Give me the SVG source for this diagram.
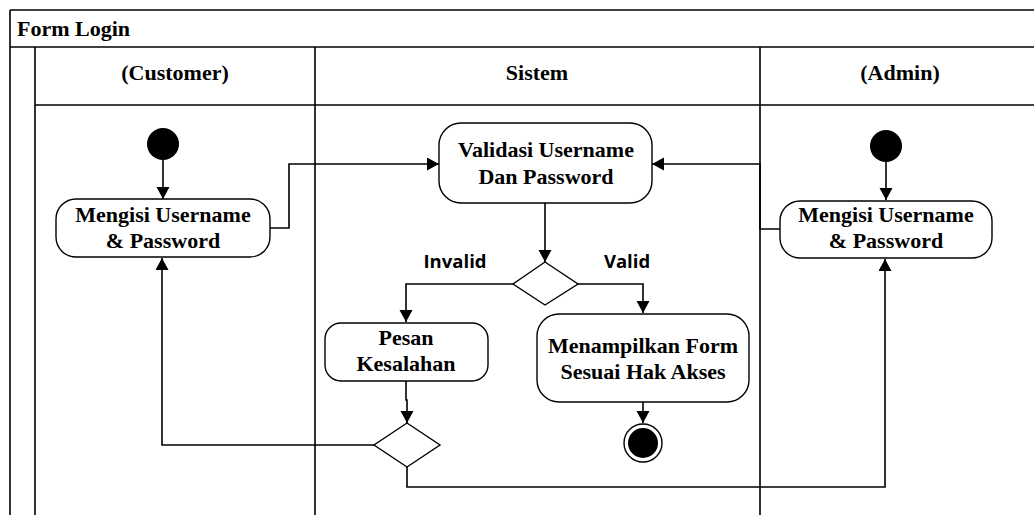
<svg xmlns="http://www.w3.org/2000/svg" width="1034" height="515" viewBox="0 0 1034 515">
<style>
.frame{stroke:#000;stroke-width:1.6;fill:none}
.node{fill:#fff;stroke:#000;stroke-width:1.4}
.t{font-family:"Liberation Serif","Times New Roman",serif;font-weight:bold;font-size:22px;text-anchor:middle;fill:#000}
.lbl{font-family:"Open Sans","Liberation Sans",sans-serif;font-weight:bold;font-size:18.5px;text-anchor:middle;fill:#000}
.c{fill:none;stroke:#000;stroke-width:1.6}
</style>
<defs>
<marker id="arr" markerUnits="userSpaceOnUse" markerWidth="14" markerHeight="14" refX="12" refY="6.5" orient="auto">
<path d="M0,0 L12,6.5 L0,13 z" fill="#000"/>
</marker>
</defs>
<rect width="1034" height="515" fill="#fff"/>
<g id="frame">
<path class="frame" d="M10,10 H1034 M10,47 H1034 M35,105 H1034 M10,10 V515 M35,47 V515 M315,47 V515 M760,47 V515"/>
<text x="17" y="36" class="t" style="text-anchor:start">Form Login</text>
<text x="175" y="80" class="t">(Customer)</text>
<text x="537" y="80" class="t">Sistem</text>
<text x="900" y="80" class="t">(Admin)</text>
</g>
<g id="connectors">
<path class="c" d="M163,160 V199" marker-end="url(#arr)"/>
<path class="c" d="M270,228 H289 V164 H439" marker-end="url(#arr)"/>
<path class="c" d="M886,162 V200" marker-end="url(#arr)"/>
<path class="c" d="M780,229 H760 V164 H652" marker-end="url(#arr)"/>
<path class="c" d="M545,203 V262" marker-end="url(#arr)"/>
<path class="c" d="M513,284 H406 V322" marker-end="url(#arr)"/>
<path class="c" d="M578,284 H643 V313" marker-end="url(#arr)"/>
<path class="c" d="M643,402 V423" marker-end="url(#arr)"/>
<path class="c" d="M406,381 V400 H407 V423" marker-end="url(#arr)"/>
<path class="c" d="M374,445 H162 V258" marker-end="url(#arr)"/>
<path class="c" d="M407,467 V487 H885 V259" marker-end="url(#arr)"/>
<text x="455" y="268" class="lbl">Invalid</text>
<text x="627" y="268" class="lbl">Valid</text>
</g>
<g id="start-customer"><circle cx="163" cy="144" r="16" fill="#000"/></g>
<g id="action-customer">
<rect class="node" x="56" y="199" width="214" height="58" rx="20"/>
<text x="163" y="222" class="t">Mengisi Username</text>
<text x="163" y="248" class="t">&amp; Password</text>
</g>
<g id="start-admin"><circle cx="886" cy="146" r="16" fill="#000"/></g>
<g id="action-admin">
<rect class="node" x="780" y="201" width="212" height="57" rx="20"/>
<text x="886" y="222" class="t">Mengisi Username</text>
<text x="886" y="248" class="t">&amp; Password</text>
</g>
<g id="validasi">
<rect class="node" x="439" y="123" width="213" height="80" rx="22"/>
<text x="546" y="157" class="t">Validasi Username</text>
<text x="546" y="184" class="t">Dan Password</text>
</g>
<g id="decision1"><polygon class="node" points="545,262 578,284 545,305 513,284"/></g>
<g id="pesan">
<rect class="node" x="325" y="323" width="163" height="58" rx="16"/>
<text x="406" y="345" class="t">Pesan</text>
<text x="406" y="371" class="t">Kesalahan</text>
</g>
<g id="menampilkan">
<rect class="node" x="537" y="314" width="212" height="88" rx="22"/>
<text x="643" y="353" class="t">Menampilkan Form</text>
<text x="643" y="379" class="t">Sesuai Hak Akses</text>
</g>
<g id="final">
<circle cx="643" cy="443" r="19" fill="#fff" stroke="#000" stroke-width="1.4"/>
<circle cx="643" cy="443" r="15" fill="#000"/>
</g>
<g id="decision2"><polygon class="node" points="407,423 440,445 407,467 374,445"/></g>
</svg>
